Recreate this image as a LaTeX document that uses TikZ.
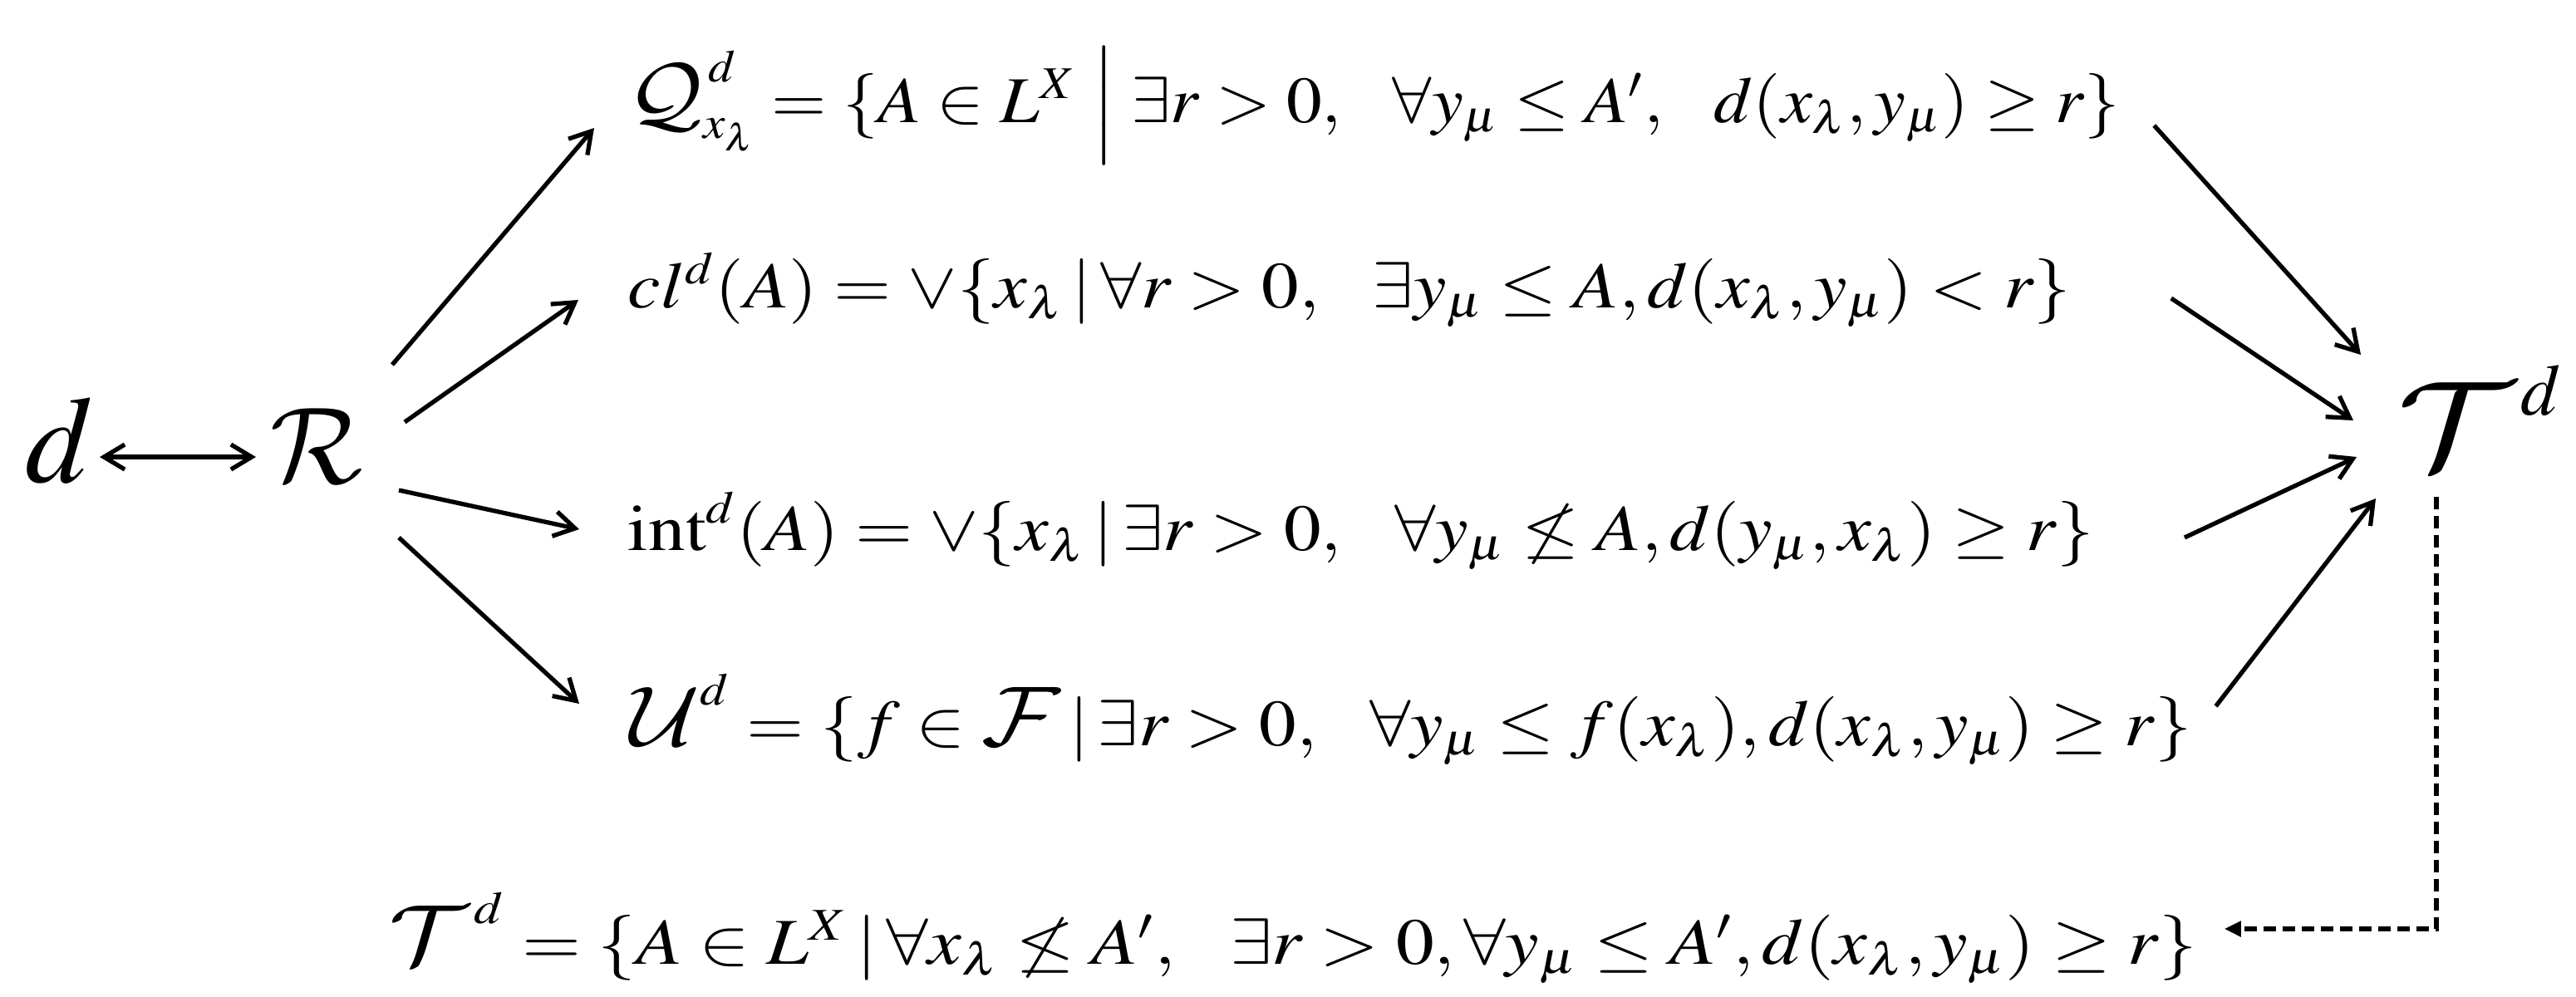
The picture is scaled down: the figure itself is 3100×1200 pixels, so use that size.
\documentclass[tikz,border=0pt]{standalone}
\usepackage{mathptmx}
\usetikzlibrary{arrows.meta,calc}
\DeclareMathAlphabet{\mycal}{OMS}{lmsy}{m}{n}
\newcommand{\bc}[1]{\mathord{\scalebox{1.3}{$\mycal{#1}$}}}
\tikzset{
  frm/.style={inner sep=0pt, anchor=base west, font=\fontsize{20.74}{25}\selectfont},
  bigsym/.style={inner sep=0pt, anchor=base west, font=\fontsize{24.88}{30}\selectfont},
  arr/.style={line width=1.5pt, -{Straight Barb[length=0.25cm,width=0.3cm]}},
  dblarr/.style={line width=1.5pt, {Straight Barb[length=0.25cm,width=0.3cm]}-{Straight Barb[length=0.25cm,width=0.3cm]}},
  back/.style={line width=1.5pt, dash pattern=on 0.15cm off 0.08cm, -{Triangle[length=0.2cm,width=0.18cm]}},
}
\begin{document}
\begin{tikzpicture}[x=0.01cm,y=-0.01cm]
\useasboundingbox (0,0) rectangle (3100,1200);
\node[bigsym] (d) at (30,580) {\scalebox{1.7}{$d$}};
\node[bigsym] (R) at (325,581) {\scalebox{1.5}{$\mycal{R}$}};
\node[bigsym] (T) at (2885,563) {\scalebox{2.0}[1.72]{$\mycal{T}$}\hspace{0.08cm}\raisebox{0.63cm}{$d$}};

\node[frm] (Q) at (755,147) {\scalebox{1.17}[1.08]{$\bc{Q}^{\,d}_{x_\lambda} = \{A \in L^X \;\Big|\; \exists r > 0,\ \ \forall y_\mu \le A',\ \ d(x_\lambda, y_\mu) \ge r\}$}};
\node[frm] (cl) at (755,370) {\scalebox{1.22}[1.08]{$cl^d(A) = \vee\{x_\lambda \,|\, \forall r > 0,\ \ \exists y_\mu \le A, d(x_\lambda, y_\mu) < r\}$}};
\node[frm] (int) at (755,662) {\scalebox{1.222}[1.08]{$\mathrm{int}^d(A) = \vee\{x_\lambda \,|\, \exists r > 0,\ \ \forall y_\mu \not\le A, d(y_\mu, x_\lambda) \ge r\}$}};
\node[frm] (U) at (758,897) {\scalebox{1.22}[1.08]{$\bc{U}^d = \{f \in \bc{F} \,|\, \exists r > 0,\ \ \forall y_\mu \le f(x_\lambda), d(x_\lambda, y_\mu) \ge r\}$}};
\node[frm] (T5) at (468,1160) {\scalebox{1.253}[1.08]{$\bc{T}^{\,d} = \{A \in L^X \,|\, \forall x_\lambda \not\le A',\ \ \exists r > 0, \forall y_\mu \le A', d(x_\lambda, y_\mu) \ge r\}$}};

\draw[dblarr] ($(d.base west)+(90,-30)$) -- ($(R.base west)+(-17,-31)$);

\draw[arr] ($(R.base west)+(147,-142)$) -- ($(Q.base west)+(-40,7)$);
\draw[arr] ($(R.base west)+(162,-73)$) -- ($(cl.base west)+(-59,-9)$);
\draw[arr] ($(R.base west)+(155,9)$) -- ($(int.base west)+(-58,-25)$);
\draw[arr] ($(R.base west)+(155,66)$) -- ($(U.base west)+(-61,-50)$);

\draw[arr] ($(Q.base east)+(40,4)$) -- ($(T.base west)+(-44,-136)$);
\draw[arr] ($(cl.base east)+(120,-11)$) -- ($(T.base west)+(-53,-57)$);
\draw[arr] ($(int.base east)+(108,-15)$) -- ($(T.base west)+(-49,-13)$);
\draw[arr] ($(U.base east)+(28,-47)$) -- ($(T.base west)+(-26,37)$);

\draw[back] ($(T.base west)+(47,35)$) |- ($(T5.base east)+(32,-42)$);
\end{tikzpicture}
\end{document}
